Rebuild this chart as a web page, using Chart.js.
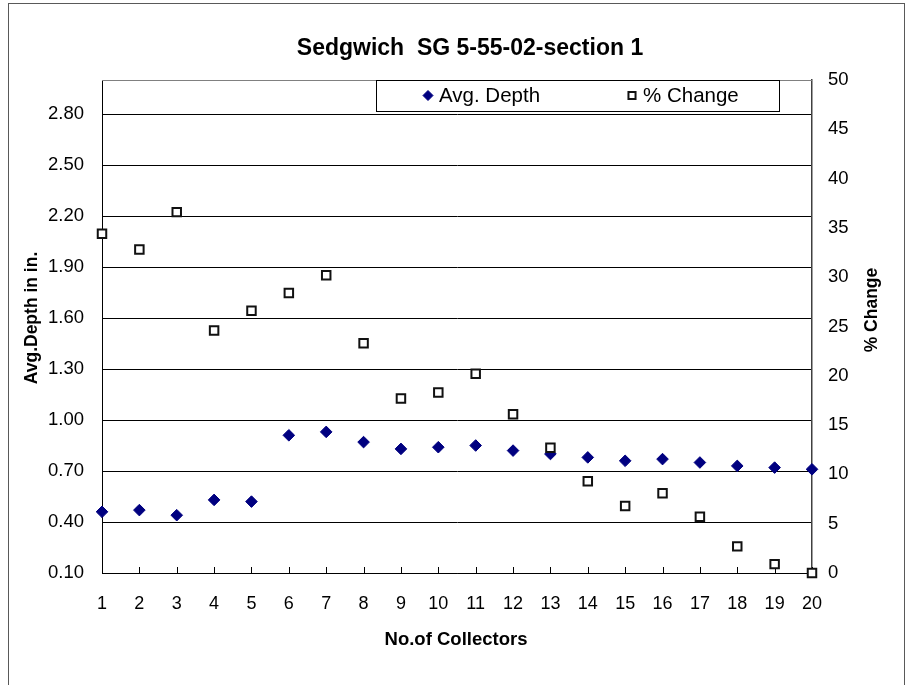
<!DOCTYPE html>
<html>
<head>
<meta charset="utf-8">
<script src="https://cdn.jsdelivr.net/npm/chart.js@4.4.1/dist/chart.umd.min.js"></script>
<style>
  html, body { margin: 0; padding: 0; background: #ffffff; }
  #wrap { position: relative; width: 912px; height: 685px; }
  canvas { display: block; }
</style>
</head>
<body>
<div id="wrap"><canvas id="c" width="912" height="685"></canvas></div>
<script>
// ---- data ----
const collectors = [1,2,3,4,5,6,7,8,9,10,11,12,13,14,15,16,17,18,19,20];
const avgDepth = [0.46,0.47,0.44,0.53,0.52,0.91,0.93,0.87,0.83,0.84,0.85,0.82,0.80,0.78,0.76,0.77,0.75,0.73,0.72,0.71];
const pctChange = [34.4,32.8,36.6,24.6,26.6,28.4,30.2,23.3,17.7,18.3,20.2,16.1,12.7,9.3,6.8,8.1,5.7,2.7,0.9,0.0];
const depthTicks = [0.10,0.40,0.70,1.00,1.30,1.60,1.90,2.20,2.50,2.80];
const pctTicks = [0,5,10,15,20,25,30,35,40,45,50];
const chartTitle = 'Sedgwich  SG 5-55-02-section 1';
const xTitle = 'No.of Collectors';
const yLeftTitle = 'Avg.Depth in in.';
const yRightTitle = '% Change';

const FONT = "'Liberation Sans', Arial, sans-serif";

const decorPlugin = {
  id: 'decor',
  beforeDraw(chart) {
    const ctx = chart.ctx;
    ctx.save();
    ctx.fillStyle = '#ffffff';
    ctx.fillRect(0, 0, chart.width, chart.height);
    ctx.strokeStyle = '#595959';
    ctx.lineWidth = 1;
    ctx.strokeRect(8.5, 3.5, 896, 700);
    ctx.restore();
  },
  beforeDatasetsDraw(chart) {
    const ctx = chart.ctx;
    const a = chart.chartArea;
    const xs = chart.scales.x;
    ctx.save();
    ctx.strokeStyle = '#808080';
    ctx.lineWidth = 1;
    ctx.beginPath();
    ctx.moveTo(a.left, a.top + 0.5);
    ctx.lineTo(a.right, a.top + 0.5);
    ctx.stroke();
    ctx.strokeStyle = '#000000';
    ctx.beginPath();
    collectors.forEach(v => {
      const px = Math.round(xs.getPixelForValue(v)) + 0.5;
      ctx.moveTo(px, a.bottom);
      ctx.lineTo(px, a.bottom - 6);
    });
    ctx.stroke();
    ctx.restore();
  },
  afterDraw(chart) {
    const ctx = chart.ctx;
    ctx.save();
    ctx.fillStyle = '#000000';
    ctx.textAlign = 'center';
    ctx.textBaseline = 'middle';
    ctx.font = 'bold 23px ' + FONT;
    ctx.fillText(chartTitle, 470, 49);
    ctx.font = 'bold 18.5px ' + FONT;
    ctx.fillText(xTitle, 456, 640);
    ctx.font = 'bold 17.5px ' + FONT;
    ctx.save();
    ctx.translate(32, 318);
    ctx.rotate(-Math.PI / 2);
    ctx.fillText(yLeftTitle, 0, 0);
    ctx.restore();
    ctx.save();
    ctx.translate(872, 310);
    ctx.rotate(-Math.PI / 2);
    ctx.fillText(yRightTitle, 0, 0);
    ctx.restore();

    // legend
    const L = {x: 376, y: 80, w: 403, h: 31};
    ctx.fillStyle = '#ffffff';
    ctx.fillRect(L.x, L.y, L.w, L.h);
    ctx.strokeStyle = '#000000';
    ctx.lineWidth = 1;
    ctx.strokeRect(L.x + 0.5, L.y + 0.5, L.w, L.h);
    const items = [
      {ds: chart.data.datasets[0], mx: 428, tx: 439, r: 5},
      {ds: chart.data.datasets[1], mx: 632, tx: 643, r: 5}
    ];
    const cy = L.y + L.h / 2;
    items.forEach(it => {
      ctx.fillStyle = it.ds.pointBackgroundColor;
      ctx.strokeStyle = it.ds.pointBorderColor;
      ctx.lineWidth = it.ds.pointBorderWidth;
      Chart.helpers.drawPoint(ctx, {
        pointStyle: it.ds.pointStyle,
        radius: it.r,
        borderWidth: it.ds.pointBorderWidth
      }, it.mx, cy);
      ctx.fillStyle = '#000000';
      ctx.font = '20.5px ' + FONT;
      ctx.textAlign = 'left';
      ctx.textBaseline = 'middle';
      ctx.fillText(it.ds.label, it.tx, cy + 1);
    });
    ctx.restore();
  }
};

const cfg = {
  type: 'scatter',
  data: {
    datasets: [
      {
        label: 'Avg. Depth',
        data: collectors.map((c, i) => ({x: c, y: avgDepth[i]})),
        yAxisID: 'y',
        pointStyle: 'rectRot',
        pointRadius: 5.8,
        pointHoverRadius: 5.8,
        pointBackgroundColor: '#000080',
        pointBorderColor: '#000080',
        pointBorderWidth: 1,
        showLine: false,
        clip: false,
        order: 2
      },
      {
        label: '% Change',
        data: collectors.map((c, i) => ({x: c, y: pctChange[i]})),
        yAxisID: 'y1',
        pointStyle: 'rect',
        pointRadius: 6,
        pointHoverRadius: 6,
        pointBackgroundColor: '#ffffff',
        pointBorderColor: '#111111',
        pointBorderWidth: 2,
        showLine: false,
        clip: false,
        order: 1
      }
    ]
  },
  options: {
    responsive: false,
    animation: false,
    events: [],
    layout: { padding: { top: 80, left: 0, right: 0, bottom: 0 } },
    plugins: {
      legend: { display: false },
      title: { display: false },
      tooltip: { enabled: false }
    },
    scales: {
      x: {
        type: 'linear',
        position: 'bottom',
        min: 1, max: 20,
        afterBuildTicks(s) { s.ticks = collectors.map(v => ({value: v})); },
        afterFit(s) { s.height = 112; },
        grid: { display: false, drawTicks: false },
        border: { display: true, color: '#000000', width: 1 },
        ticks: {
          color: '#000000',
          font: { family: FONT, size: 18 },
          padding: 20,
          maxRotation: 0,
          autoSkip: false,
          callback: v => String(v)
        }
      },
      y: {
        type: 'linear',
        position: 'left',
        min: 0.1, max: 3.0,
        afterBuildTicks(s) { s.ticks = depthTicks.map(v => ({value: v})); },
        afterFit(s) { s.width = 102; },
        grid: { color: '#000000', lineWidth: 1, drawTicks: false },
        border: { display: true, color: '#000000', width: 1 },
        ticks: {
          color: '#000000',
          font: { family: FONT, size: 18.5 },
          padding: 18,
          callback: v => Number(v).toFixed(2)
        }
      },
      y1: {
        type: 'linear',
        position: 'right',
        min: 0, max: 50,
        afterBuildTicks(s) { s.ticks = pctTicks.map(v => ({value: v})); },
        afterFit(s) { s.width = 100; },
        grid: { drawOnChartArea: false, drawTicks: false },
        border: { display: true, color: '#404040', width: 1.5 },
        ticks: {
          color: '#000000',
          font: { family: FONT, size: 18.5 },
          padding: 16,
          callback: v => String(v)
        }
      }
    }
  },
  plugins: [decorPlugin]
};

new Chart(document.getElementById('c'), cfg);
</script>
</body>
</html>
